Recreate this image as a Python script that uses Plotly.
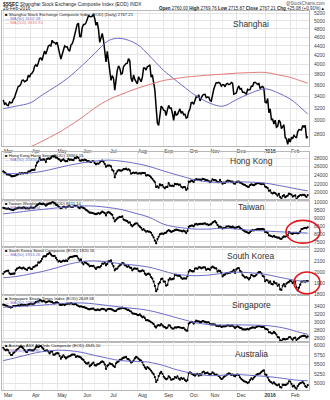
import bisect
import math
import pandas as pd
import plotly.graph_objects as go

W, H = 330, 400

# ---------------------------------------------------------------- data
# Daily closes on Shanghai trading days, 2 Mar 2015 .. 26 Feb 2016
SSEC_CLOSE = [
    3336, 3263, 3280, 3248, 3241, 3302, 3286, 3291, 3349, 3373, 3449, 3503, 3577, 3582, 3617, 3688, 3691, 3661, 3682, 3691, 3787, 3748,
    3810, 3825, 3863, 3961, 3995, 3957, 4034, 4121, 4135, 4084, 4194, 4287, 4217, 4293, 4398, 4414, 4394, 4527, 4476, 4476, 4442,
    4480, 4298, 4229, 4112, 4205, 4333, 4401, 4375, 4378, 4308, 4283, 4418, 4446, 4529, 4657, 4813, 4910, 4941, 4620, 4611,
    4828, 4910, 4909, 4947, 5023, 5131, 5113, 5106, 5121, 5166, 5062, 4887, 4967, 4785, 4478, 4576, 4690, 4527, 4192, 4053, 4277,
    4054, 3912, 3687, 3776, 3727, 3507, 3710, 3878, 3970, 3925, 3805, 3823, 3958, 3993, 4017, 4026, 4124, 4070, 3725, 3663, 3789, 3705, 3664,
    3623, 3756, 3695, 3662, 3744, 3928, 3928, 3887, 3955, 3965, 3993, 3748, 3794, 3664, 3508, 3210, 2965, 2927, 3084, 3232, 3206,
    3166, 3160, 3080, 3170, 3243, 3197, 3200, 3114, 3005, 3152, 3086, 3097, 3156, 3186, 3116, 3143, 3093, 3101, 3039, 3053,
    3143, 3183, 3288, 3293, 3263, 3338, 3392, 3386, 3425, 3320, 3369, 3412, 3430, 3434, 3375, 3387, 3383,
    3326, 3316, 3460, 3522, 3590, 3646, 3640, 3650, 3632, 3580, 3606, 3604, 3568, 3618, 3630, 3610, 3616, 3647, 3635, 3436, 3445,
    3456, 3537, 3584, 3525, 3536, 3470, 3472, 3455, 3435, 3520, 3510, 3516, 3580, 3578, 3643, 3651, 3636, 3612, 3628, 3534, 3563, 3573, 3539,
    3297, 3288, 3361, 3125, 3186, 3017, 3022, 2949, 3008, 2901, 2913, 3008, 2977, 2881, 2917, 2938, 2750, 2735, 2656, 2738,
    2689, 2750, 2739, 2781, 2763, 2746, 2836, 2867, 2863, 2860, 2927, 2903, 2928, 2742.13, 2767.21,
]
HSI_CLOSE = [
    24887, 24702, 24465, 24193, 24164, 24123, 23896, 23717, 23797, 23823, 23950, 24120, 24250, 24468, 24375, 24494, 24400, 24528, 24497, 24486, 24856, 24900,
    25082, 25275, 25275, 25275, 26236, 26944, 27272, 28016, 27561, 27618, 27740, 27653, 27094, 27850, 27933, 27827, 28061, 28433, 28442, 28400, 28133,
    28123, 27756, 27640, 27289, 27577, 27718, 27407, 27250, 27286, 27822, 27591, 27693, 27585, 27524, 27992, 27992, 28249, 28081, 27454, 27424,
    27597, 27467, 27657, 27551, 27260, 27316, 27183, 27080, 27280, 27280, 26861, 26566, 26753, 26694, 27000, 27333, 27404, 27145, 26663, 25967, 26250,
    26250, 26282, 26064, 25236, 24976, 23516, 24392, 24901, 25224, 25120, 25055, 25162, 25415, 25404, 25536, 25282, 25398, 25128, 24351, 24503, 24619, 24497, 24636,
    24411, 24406, 24515, 24376, 24552, 24521, 24498, 23916, 24020, 23991, 23814, 23475, 23167, 22757, 22410, 21252, 21405, 21080, 21838, 21612, 21671,
    21185, 20935, 21259, 21260, 22131, 21563, 21505, 21562, 21455, 21966, 21855, 21920, 21757, 21797, 21302, 21096, 21186, 21186, 20556, 20846,
    22515, 22458, 22731, 22600, 22439, 22889, 23067, 22990, 22989, 22989, 22845, 23151, 23116, 22956, 22831, 22820, 22640,
    22370, 22568, 23053, 22867, 22868, 22727, 22402, 22352, 22889, 22397, 22011, 22265, 22188, 22500, 22754, 22665, 22588, 22498, 22488, 22068, 21996,
    22381, 22479, 22527, 22236, 22235, 21905, 21803, 21704, 21464, 21309, 21274, 21701, 21872, 21755, 21663, 21831, 22041, 22139, 22139, 21999, 21882, 21998, 21914,
    21327, 21188, 20981, 20333, 20454, 19888, 19712, 19935, 19817, 19521, 19237, 19635, 18886, 18543, 19080, 19340, 18861, 19053, 19196, 19683,
    19596, 19446, 18992, 19184, 19289, 18319, 18918, 19122, 19363, 19286, 19415, 19414, 19192, 18889, 19364.15,
]
TWII_CLOSE = [
    9620, 9600, 9580, 9560, 9590, 9540, 9520, 9500, 9480, 9530, 9570, 9590, 9620, 9640, 9600, 9610, 9650, 9630, 9580, 9600, 9580, 9590,
    9650, 9620, 9620, 9640, 9720, 9800, 9840, 9900, 9870, 9850, 9880, 9830, 9760, 9820, 9880, 9900, 9920, 9970, 9960, 9920, 9820,
    9790, 9720, 9650, 9600, 9630, 9680, 9670, 9640, 9690, 9710, 9720, 9690, 9680, 9700, 9740, 9730, 9720, 9650, 9600, 9700,
    9650, 9620, 9580, 9500, 9450, 9380, 9320, 9330, 9300, 9280, 9250, 9230, 9260, 9300, 9250, 9320, 9380, 9340, 9290, 9150, 9320,
    9350, 9320, 9250, 9180, 8990, 8780, 8880, 8960, 9020, 9060, 9050, 9090, 8890, 8850, 8830, 8790, 8700, 8720, 8550, 8470, 8550, 8620, 8660,
    8640, 8520, 8450, 8380, 8250, 8290, 8210, 8130, 8170, 8140, 8130, 8070, 7920, 7790, 7580, 7410, 7680, 7820, 7970, 8010, 8020,
    8000, 8060, 8070, 8170, 8240, 8180, 8120, 8160, 8190, 8230, 8270, 8250, 8220, 8210, 8190, 8150, 8200, 8150, 8050, 8180,
    8440, 8480, 8520, 8510, 8470, 8590, 8630, 8580, 8610, 8620, 8630, 8620, 8640, 8650, 8600, 8590, 8550,
    8580, 8610, 8700, 8750, 8790, 8700, 8560, 8430, 8460, 8410, 8330, 8370, 8360, 8450, 8460, 8470, 8430, 8420, 8450, 8400, 8350,
    8400, 8420, 8450, 8370, 8320, 8250, 8200, 8140, 8120, 8080, 8040, 8110, 8200, 8230, 8210, 8240, 8270, 8300, 8300, 8290, 8300, 8310, 8280,
    8110, 8110, 8060, 7900, 7890, 7850, 7820, 7870, 7810, 7790, 7760, 7770, 7700, 7680, 7780, 7840, 7820, 7860, 7900, 8110,
    8070, 8020, 8000, 8060, 8060, 8060, 8030, 8060, 8140, 8300, 8320, 8350, 8380, 8360, 8411.14,
]
KOSPI_CLOSE = [
    1985, 2001, 2008, 2012, 2013, 1988, 1981, 1985, 1986, 1987, 2018, 2032, 2037, 2043, 2037, 2032, 2041, 2032, 2026, 2019, 2037, 2041,
    2029, 2028, 2045, 2049, 2059, 2061, 2087, 2086, 2098, 2119, 2139, 2143, 2141, 2159, 2164, 2173, 2159, 2147, 2144, 2147, 2127,
    2111, 2095, 2100, 2091, 2097, 2104, 2098, 2105, 2099, 2121, 2133, 2136, 2137, 2142, 2143, 2145, 2142, 2122, 2104, 2114,
    2084, 2070, 2090, 2083, 2075, 2067, 2052, 2057, 2054, 2057, 2041, 2028, 2042, 2045, 2042, 2055, 2077, 2075, 2085, 2061, 2074,
    2097, 2098, 2105, 2076, 2053, 2016, 2030, 2032, 2050, 2060, 2068, 2081, 2079, 2062, 2058, 2047, 2055, 2041, 2038, 2016, 2029, 2034, 2030,
    2031, 2012, 2006, 2010, 2016, 2011, 1986, 1975, 1983, 1987, 1978, 1956, 1943, 1915, 1876, 1829, 1846, 1895, 1908, 1938, 1941,
    1915, 1915, 1878, 1886, 1930, 1945, 1935, 1937, 1941, 1975, 1976, 1968, 1969, 1966, 1950, 1940, 1944, 1944, 1942, 1963,
    2005, 2019, 2011, 2006, 2007, 2032, 2033, 2030, 2042, 2043, 2034, 2040, 2043, 2042, 2021, 2030, 2029,
    2021, 2041, 2049, 2042, 2035, 2033, 2005, 2013, 2011, 1996, 1961, 1973, 1979, 1989, 1989, 1994, 1995, 1999, 2006, 2020, 1992,
    2024, 2034, 2036, 2011, 2002, 1973, 1963, 1951, 1955, 1949, 1934, 1949, 1975, 1970, 1961, 1966, 1976, 1990, 2000, 2000, 1990, 1966, 1961,
    1918, 1930, 1925, 1904, 1917, 1894, 1890, 1916, 1900, 1900, 1878, 1889, 1845, 1840, 1879, 1893, 1871, 1897, 1906, 1912,
    1924, 1918, 1901, 1916, 1917, 1862, 1836, 1861, 1888, 1916, 1916, 1918, 1914, 1920, 1920.16,
]
STI_CLOSE = [
    3432, 3425, 3411, 3403, 3382, 3378, 3361, 3373, 3396, 3400, 3395, 3402, 3418, 3411, 3430, 3433, 3420, 3427, 3424, 3412, 3439, 3447,
    3460, 3453, 3453, 3466, 3496, 3511, 3509, 3540, 3538, 3513, 3527, 3512, 3488, 3502, 3517, 3513, 3506, 3499, 3470, 3465, 3487,
    3490, 3474, 3433, 3422, 3433, 3440, 3423, 3446, 3456, 3460, 3455, 3471, 3454, 3443, 3446, 3446, 3417, 3402, 3385, 3392,
    3380, 3372, 3364, 3352, 3336, 3322, 3318, 3327, 3335, 3334, 3307, 3297, 3308, 3310, 3296, 3318, 3332, 3324, 3313, 3281, 3317,
    3326, 3330, 3322, 3310, 3290, 3275, 3278, 3313, 3327, 3335, 3341, 3357, 3348, 3338, 3331, 3305, 3302, 3276, 3262, 3220, 3214, 3208, 3202,
    3180, 3174, 3194, 3157, 3120, 3139, 3102, 3048, 3053, 3039, 3024, 2999, 2986, 2952, 2897, 2867, 2914, 2930, 2918, 2956, 2921,
    2889, 2880, 2854, 2868, 2922, 2919, 2870, 2843, 2844, 2875, 2865, 2877, 2879, 2870, 2862, 2856, 2862, 2820, 2795, 2790,
    2964, 2987, 3010, 2997, 2967, 3002, 3038, 3022, 3023, 3006, 3004, 3029, 3021, 3007, 2992, 2998, 2998,
    2952, 2945, 2946, 2949, 2941, 2910, 2912, 2900, 2917, 2887, 2890, 2902, 2894, 2910, 2920, 2919, 2906, 2918, 2915, 2888, 2856,
    2883, 2900, 2881, 2858, 2852, 2822, 2823, 2818, 2822, 2838, 2821, 2848, 2860, 2875, 2869, 2862, 2887, 2897, 2900, 2900, 2882, 2880, 2882,
    2841, 2830, 2818, 2751, 2751, 2725, 2727, 2761, 2729, 2697, 2633, 2625, 2553, 2532, 2577, 2588, 2574, 2586, 2593, 2630,
    2633, 2597, 2566, 2611, 2623, 2560, 2590, 2610, 2640, 2652, 2660, 2670, 2660, 2625, 2649.58,
]
AORD_CLOSE = [
    5943, 5898, 5878, 5897, 5879, 5810, 5756, 5750, 5800, 5830, 5868, 5898, 5919, 5962, 5983, 5960, 5931, 5880, 5840, 5830, 5880, 5892,
    5880, 5873, 5873, 5900, 5950, 5985, 5960, 5985, 5992, 5950, 5920, 5865, 5870, 5878, 5844, 5795, 5840, 5850, 5760, 5760, 5790,
    5800, 5795, 5730, 5650, 5700, 5745, 5700, 5660, 5690, 5710, 5720, 5740, 5760, 5765, 5760, 5700, 5720, 5710, 5700, 5680,
    5640, 5620, 5570, 5530, 5520, 5550, 5450, 5480, 5520, 5550, 5480, 5470, 5500, 5510, 5530, 5560, 5580, 5560, 5500, 5380, 5460,
    5490, 5530, 5510, 5500, 5460, 5430, 5530, 5560, 5580, 5620, 5630, 5660, 5680, 5690, 5700, 5650, 5640, 5600, 5550, 5570, 5600, 5660, 5700,
    5680, 5650, 5620, 5600, 5560, 5480, 5420, 5380, 5430, 5400, 5370, 5330, 5280, 5240, 5160, 5030, 5080, 5190, 5260, 5300, 5250,
    5170, 5130, 5100, 5120, 5180, 5150, 5090, 5100, 5110, 5160, 5140, 5180, 5120, 5090, 5140, 5110, 5130, 5080, 5050, 5080,
    5270, 5290, 5260, 5240, 5220, 5200, 5230, 5250, 5200, 5240, 5210, 5290, 5310, 5260, 5270, 5280, 5250,
    5230, 5250, 5290, 5260, 5220, 5230, 5210, 5190, 5150, 5110, 5120, 5160, 5190, 5210, 5240, 5260, 5250, 5220, 5230, 5200, 5180,
    5220, 5230, 5210, 5150, 5110, 5080, 5050, 5040, 5030, 5000, 5020, 5080, 5130, 5100, 5150, 5180, 5220, 5240, 5250, 5260, 5300, 5330, 5340,
    5230, 5220, 5150, 5080, 5040, 5020, 4990, 5020, 4980, 4950, 4940, 4970, 4890, 4880, 4960, 4950, 4950, 4960, 4990, 5050,
    5040, 4980, 4910, 4930, 4880, 4850, 4920, 4970, 5000, 5010, 5030, 4990, 4920, 4890, 4945.10,
]

# Moving-average readings at fixed dates (drawn as smooth curves)
KNOT_DATES = [
    "2015-03-02", "2015-03-16", "2015-04-01", "2015-04-15", "2015-05-04", "2015-05-15",
    "2015-06-01", "2015-06-15", "2015-07-01", "2015-07-15", "2015-08-03", "2015-08-14",
    "2015-09-01", "2015-09-15", "2015-10-08", "2015-10-15", "2015-11-02", "2015-11-16",
    "2015-12-01", "2015-12-15", "2016-01-04", "2016-01-15", "2016-02-01", "2016-02-15", "2016-02-26",
]
SSEC_MA50 = [3190, 3230, 3290, 3420, 3590, 3740, 3980, 4230, 4520, 4570, 4430, 4200, 3880,
             3720, 3500, 3420, 3280, 3230, 3340, 3440, 3530, 3470, 3350, 3270, 3102.58]
SSEC_MA200 = [2500, 2555, 2625, 2700, 2810, 2910, 3050, 3200, 3340, 3430, 3540, 3605, 3685,
              3715, 3755, 3765, 3790, 3805, 3825, 3835, 3840, 3800, 3745, 3705, 3633.94]
HSI_MA50 = [24350, 24380, 24550, 24900, 25700, 26300, 26900, 27300, 27550, 27300, 26700, 26100, 25000,
            24300, 23300, 22900, 22400, 22300, 22450, 22400, 22150, 21700, 21100, 20800, 20334.24]
TWII_MA50 = [9250, 9330, 9450, 9520, 9620, 9680, 9740, 9730, 9640, 9520, 9250, 9050, 8600,
             8450, 8330, 8300, 8300, 8350, 8300, 8230, 8180, 8140, 8100, 8080, 8050.34]
KOSPI_MA50 = [1950, 1960, 1985, 2005, 2040, 2070, 2095, 2100, 2090, 2075, 2060, 2045, 2010,
              1985, 1970, 1968, 1975, 1990, 2000, 1995, 1980, 1960, 1935, 1925, 1913.26]
STI_MA50 = [3370, 3385, 3405, 3420, 3455, 3470, 3475, 3450, 3410, 3370, 3330, 3290, 3200,
            3130, 3030, 2990, 2940, 2930, 2935, 2930, 2920, 2890, 2820, 2770, 2702.15]
AORD_MA50 = [5600, 5680, 5780, 5840, 5880, 5870, 5820, 5740, 5660, 5600, 5580, 5560, 5470,
             5380, 5280, 5250, 5200, 5210, 5230, 5210, 5180, 5150, 5100, 5080, 5061.80]

# Right-axis tick values
SSEC_TICKS = [2800, 3000, 3200, 3400, 3600, 3800, 4000, 4200, 4400, 4600, 4800, 5000, 5200]
HSI_TICKS = [20000, 22000, 24000, 26000, 28000]
TWII_TICKS = [7500, 8000, 8500, 9000, 9500, 10000]
KOSPI_TICKS = [1800, 1900, 2000, 2100, 2200]
STI_TICKS = [2600, 2800, 3000, 3200, 3400]
AORD_TICKS = [5000, 5250, 5500, 5750, 6000]

MONTH_LABELS = ["Mar", "Apr", "May", "Jun", "Jul", "Aug", "Sep", "Oct", "Nov", "Dec", "<b>2016</b>", "Feb"]

SSEC_LAST_BAR = {"Open": "2760.00", "High": "2769.76", "Low": "2715.87"}

# ---------------------------------------------------------------- calendar
HOLIDAYS = {
    "2015-04-06", "2015-05-01", "2015-06-22", "2015-09-03", "2015-09-04",
    "2015-10-01", "2015-10-02", "2015-10-05", "2015-10-06", "2015-10-07",
    "2016-01-01", "2016-02-08", "2016-02-09", "2016-02-10", "2016-02-11", "2016-02-12",
}
days = [d for d in pd.bdate_range("2015-03-02", "2016-02-26") if d.strftime("%Y-%m-%d") not in HOLIDAYS]
n_days = len(days)


def pos_of(date_str):
    return min(bisect.bisect_left(days, pd.Timestamp(date_str)), n_days - 1)


knot_x = [pos_of(d) for d in KNOT_DATES]
month_starts = [i for i in range(n_days) if i == 0 or days[i].month != days[i - 1].month]
mid_months = []
for m0 in month_starts:
    for i in range(m0, n_days):
        if days[i].month != days[m0].month:
            break
        if days[i].day >= 15:
            mid_months.append(i)
            break

# ---------------------------------------------------------------- layout
PLOT_L, PLOT_R = 2, 309
BLUE = "#6b6bc9"
RED = "#e47a7a"
GRID = "#e4e4e4"
FRAME = "#b8b8b8"
FONT = "Liberation Sans, Arial, sans-serif"

PANELS = [
    dict(title="Shanghai", name="Shanghai Stock Exchange Composite Index (EOD) (Daily)",
         close=SSEC_CLOSE, ma50=SSEC_MA50, ma200=SSEC_MA200, ticks=SSEC_TICKS,
         top=10, bottom=146, yr=(2636, 5261), log=True, title_dy=13, dates=True),
    dict(title="Hong Kong", name="Hong Kong Hang Seng (EOD)", close=HSI_CLOSE, ma50=HSI_MA50,
         ticks=HSI_TICKS, top=152, bottom=200, yr=(18306, 29482), title_dy=9),
    dict(title="Taiwan", name="Taiwan Weighted Index (EOD)", close=TWII_CLOSE, ma50=TWII_MA50,
         ticks=TWII_TICKS, top=200, bottom=248, yr=(7172, 10142), title_dy=8),
    dict(title="South Korea", name="South Korea Seoul Composite (EOD)", close=KOSPI_CLOSE, ma50=KOSPI_MA50,
         ticks=KOSPI_TICKS, top=248, bottom=296, yr=(1797, 2224), title_dy=9),
    dict(title="Singapore", name="Singapore Straits Times Index (EOD)", close=STI_CLOSE, ma50=STI_MA50,
         ticks=STI_TICKS, top=296, bottom=344, yr=(2502, 3676), title_dy=10),
    dict(title="Australia", name="Australia ASX All Ords Composite (EOD)", close=AORD_CLOSE, ma50=AORD_MA50,
         ticks=AORD_TICKS, top=344, bottom=392, yr=(4814, 6088), title_dy=12, dates=True),
]


def px(x):
    return x / W


def py(y):
    return 1 - y / H


fig = go.Figure()
annotations = []
layout_axes = {}

for k, p in enumerate(PANELS, start=1):
    xa, ya = f"x{k}", f"y{k}"
    xs = list(range(len(p["close"])))
    if k == 1:
        fig.add_trace(go.Scatter(x=xs, y=p["close"], mode="lines", xaxis=xa, yaxis=ya,
                                 line=dict(color="black", width=1.5), showlegend=False))
    else:
        fig.add_trace(go.Scatter(x=xs, y=p["close"], mode="lines+markers", xaxis=xa, yaxis=ya,
                                 line=dict(color="black", width=0.9),
                                 marker=dict(color="black", size=2.2), showlegend=False))
    fig.add_trace(go.Scatter(x=knot_x, y=p["ma50"], mode="lines", xaxis=xa, yaxis=ya,
                             line=dict(color=BLUE, width=1, shape="spline", smoothing=1.0),
                             showlegend=False))
    if "ma200" in p:
        fig.add_trace(go.Scatter(x=knot_x, y=p["ma200"], mode="lines", xaxis=xa, yaxis=ya,
                                 line=dict(color=RED, width=1, shape="spline", smoothing=1.0),
                                 showlegend=False))

    sfx = "" if k == 1 else str(k)
    layout_axes["xaxis" + sfx] = dict(
        domain=[px(PLOT_L), px(PLOT_R)], anchor=ya, range=[-1, n_days],
        tickmode="array", tickvals=month_starts, ticktext=MONTH_LABELS,
        showticklabels=bool(p.get("dates")), ticks="", ticklabelshift=5, ticklabelstandoff=0,
        tickfont=dict(size=5, color="#333", family=FONT),
        showgrid=True, gridcolor=GRID, gridwidth=1,
        minor=dict(tickvals=mid_months, showgrid=True, gridcolor="#efefef", gridwidth=1),
        showline=True, mirror=True, linecolor=FRAME, linewidth=0.8, zeroline=False,
        fixedrange=True,
    )
    if p.get("log"):
        yrange = [math.log10(p["yr"][0]), math.log10(p["yr"][1])]
    else:
        yrange = list(p["yr"])
    layout_axes["yaxis" + sfx] = dict(
        domain=[py(p["bottom"]), py(p["top"])], anchor=xa, side="right",
        type="log" if p.get("log") else "linear", range=yrange,
        tickmode="array", tickvals=p["ticks"], ticktext=[str(v) for v in p["ticks"]],
        ticks="", ticklabelstandoff=3, tickfont=dict(size=5, color="#444", family=FONT),
        showgrid=True, gridcolor=GRID, gridwidth=1,
        showline=True, mirror=True, linecolor=FRAME, linewidth=0.8, zeroline=False,
        fixedrange=True,
    )

    # panel title
    annotations.append(dict(x=px(251), y=py(p["top"] + p["title_dy"]), xref="paper", yref="paper",
                            text=p["title"], showarrow=False, xanchor="center", yanchor="middle",
                            font=dict(size=8.5, color="#333", family=FONT)))
    # legend lines
    lines = [("<b>■</b> " + p["name"] + f" {p['close'][-1]:.2f}", "#111")]
    lines.append((f"— MA(50) {p['ma50'][-1]:.2f}", BLUE))
    if "ma200" in p:
        lines.append((f"— MA(200) {p['ma200'][-1]:.2f}", RED))
    for j, (txt, col) in enumerate(lines):
        annotations.append(dict(x=px(4), y=py(p["top"] + 3.6 + 4.2 * j), xref="paper", yref="paper",
                                text=txt, showarrow=False, xanchor="left", yanchor="middle",
                                borderpad=0, font=dict(size=4.2, color=col, family=FONT)))

# header
last, prev = SSEC_CLOSE[-1], SSEC_CLOSE[-2]
chg = last - prev
header_right = (f"<b>Open</b> {SSEC_LAST_BAR['Open']} <b>High</b> {SSEC_LAST_BAR['High']} "
                f"<b>Low</b> {SSEC_LAST_BAR['Low']} <b>Close</b> {last:.2f} "
                f"<b>Chg</b> {chg:+.2f} ({chg / prev * 100:+.2f}%)▲")
header = [
    dict(x=px(2), y=py(3.5), text="<b>$SSEC</b> Shanghai Stock Exchange Composite Index (EOD) INDX",
         xanchor="left", font=dict(size=4.8, color="#222", family=FONT)),
    dict(x=px(2), y=py(8), text="26-Feb-2016", xanchor="left", font=dict(size=4.8, color="#222", family=FONT)),
    dict(x=px(326), y=py(8), text=header_right, xanchor="right", font=dict(size=4.5, color="#222", family=FONT)),
    dict(x=px(326), y=py(3), text="@StockCharts.com", xanchor="right", font=dict(size=4.5, color="#555", family=FONT)),
]
for a in header:
    a.update(xref="paper", yref="paper", showarrow=False, yanchor="middle", borderpad=0)
annotations += header

# red highlight rings around the latest bars
shapes = [
    dict(type="circle", xref="paper", yref="paper", x0=px(286), x1=px(320), y0=py(244), y1=py(221),
         line=dict(color="#e3161c", width=1.6)),
    dict(type="circle", xref="paper", yref="paper", x0=px(294), x1=px(320), y0=py(295), y1=py(273),
         line=dict(color="#e3161c", width=1.6)),
]

fig.update_layout(
    width=W, height=H, margin=dict(l=0, r=0, t=0, b=0),
    paper_bgcolor="white", plot_bgcolor="white",
    annotations=annotations, shapes=shapes, showlegend=False,
    font=dict(family=FONT), **layout_axes,
)

fig.write_html("out.html", config={"displayModeBar": False})
